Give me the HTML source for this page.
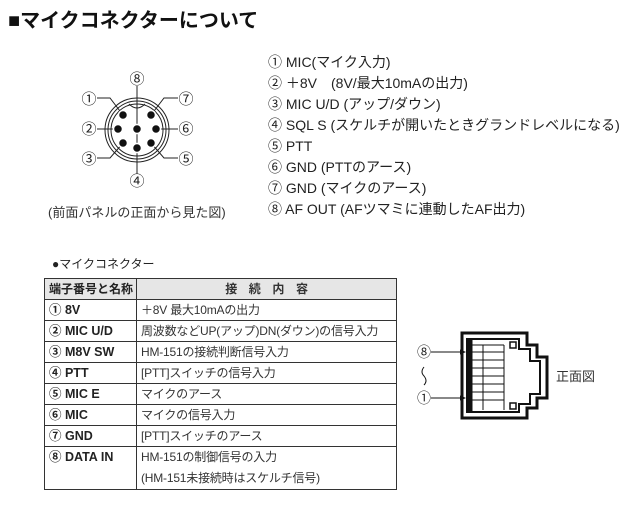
<!DOCTYPE html>
<html><head><meta charset="utf-8"><style>
body{margin:0;width:640px;height:510px;background:#fff;position:relative;font-family:"Liberation Sans","Noto Sans CJK JP",sans-serif;color:#222;overflow:hidden}
.a{position:absolute;white-space:nowrap}
.t{left:8px;top:4px;font-size:20px;font-weight:bold;color:#111}
.l{left:268px;font-size:14px;line-height:21px;top:52px}
table{position:absolute;left:44px;top:278px;border-collapse:collapse;font-size:12.5px;table-layout:fixed;width:353px}
td{border:1px solid #333;height:20px;padding:0 4px;line-height:20px;white-space:nowrap;overflow:hidden}
td:first-child{width:83px;font-weight:bold;color:#222}
td:last-child{color:#333;font-size:12px;letter-spacing:-0.2px}
tr.h td{background:#e6e6e6;font-weight:bold;font-size:12px}
</style></head><body>
<div class="a t">■マイクコネクターについて</div>
<div class="a l">① MIC(マイク入力)<br>② ＋8V　(8V/最大10mAの出力)<br>③ MIC U/D (アップ/ダウン)<br>④ SQL S (スケルチが開いたときグランドレベルになる)<br>⑤ PTT<br>⑥ GND (PTTのアース)<br>⑦ GND (マイクのアース)<br>⑧ AF OUT (AFツマミに連動したAF出力)</div>
<svg class="a" style="left:0;top:0" width="640" height="510">
<g fill="none" stroke="#222" stroke-width="1">
<circle cx="137" cy="130" r="32"/><circle cx="137" cy="130" r="29"/><circle cx="137" cy="130" r="26"/>
<path d="M129 104 q8 8 16 0"/>
<line x1="137" y1="86" x2="137" y2="174"/>
<polyline points="97,98 110,98 123,115"/><polyline points="178,98 164,98 151,115"/>
<line x1="97" y1="129" x2="118" y2="129"/><line x1="178" y1="129" x2="156" y2="129"/>
<polyline points="97,158 110,158 123,143"/><polyline points="178,158 164,158 151,143"/>
</g>
<g fill="#111" stroke="#fff" stroke-width="1.5">
<circle cx="123" cy="115" r="4.5"/><circle cx="151" cy="115" r="4.5"/><circle cx="118" cy="129" r="4.5"/><circle cx="137" cy="129" r="4.5"/><circle cx="156" cy="129" r="4.5"/><circle cx="123" cy="143" r="4.5"/><circle cx="151" cy="143" r="4.5"/><circle cx="137" cy="148" r="4.5"/>
</g>
<g font-size="15" text-anchor="middle" fill="#222">
<text x="137" y="84">⑧</text><text x="89" y="104">①</text><text x="186" y="104">⑦</text><text x="89" y="134">②</text><text x="186" y="134">⑥</text><text x="89" y="164">③</text><text x="186" y="164">⑤</text><text x="137" y="186">④</text>
</g>
<text x="48" y="217" font-size="13" fill="#333">(前面パネルの正面から見た図)</text>
<text x="52" y="268" font-size="12" fill="#222">●マイクコネクター</text>
<g fill="none" stroke="#111">
<path stroke-width="3" d="M462 333 H527 V345 H537 V357 H547 V398 H537 V408 H527 V418 H462 Z"/>
<path stroke-width="2" d="M467 339 H519 V349 H530 V361 H540 V394 H530 V404 H519 V412 H467 Z"/>
<rect x="467" y="339" width="5" height="73" fill="#111"/>
<g stroke-width="1"><line x1="483" y1="345" x2="483" y2="410"/><line x1="472" y1="345" x2="504" y2="345"/>
<line x1="472" y1="352" x2="504" y2="352"/><line x1="472" y1="360" x2="504" y2="360"/><line x1="472" y1="368" x2="504" y2="368"/><line x1="472" y1="376" x2="504" y2="376"/><line x1="472" y1="384" x2="504" y2="384"/><line x1="472" y1="392" x2="504" y2="392"/><line x1="472" y1="400" x2="504" y2="400"/><line x1="504" y1="345" x2="504" y2="410"/>
<line x1="431" y1="352" x2="460" y2="352"/><line x1="431" y1="398" x2="460" y2="398"/>
<path d="M424 367 q-4 5 0 9 q4 5 0 9"/></g>
<rect x="510" y="342" width="6" height="6" stroke-width="1.5"/><rect x="510" y="403" width="6" height="6" stroke-width="1.5"/>
</g>
<path d="M466 352 l-6 -2.5 v5 z M466 398 l-6 -2.5 v5 z" fill="#111"/>
<text x="424" y="357" font-size="14" text-anchor="middle" fill="#222">⑧</text>
<text x="424" y="403" font-size="14" text-anchor="middle" fill="#222">①</text>
<text x="556" y="381" font-size="13" fill="#333">正面図</text>
</svg>
<table>
<tr class="h"><td>端子番号と名称</td><td style="text-align:center">接　続　内　容</td></tr>
<tr><td>① 8V</td><td>＋8V 最大10mAの出力</td></tr>
<tr><td>② MIC U/D</td><td>周波数などUP(アップ)DN(ダウン)の信号入力</td></tr>
<tr><td>③ M8V SW</td><td>HM-151の接続判断信号入力</td></tr>
<tr><td>④ PTT</td><td>[PTT]スイッチの信号入力</td></tr>
<tr><td>⑤ MIC E</td><td>マイクのアース</td></tr>
<tr><td>⑥ MIC</td><td>マイクの信号入力</td></tr>
<tr><td>⑦ GND</td><td>[PTT]スイッチのアース</td></tr>
<tr><td style="vertical-align:top">⑧ DATA IN</td><td style="line-height:21px">HM-151の制御信号の入力<br>(HM-151未接続時はスケルチ信号)</td></tr>
</table>
</body></html>
